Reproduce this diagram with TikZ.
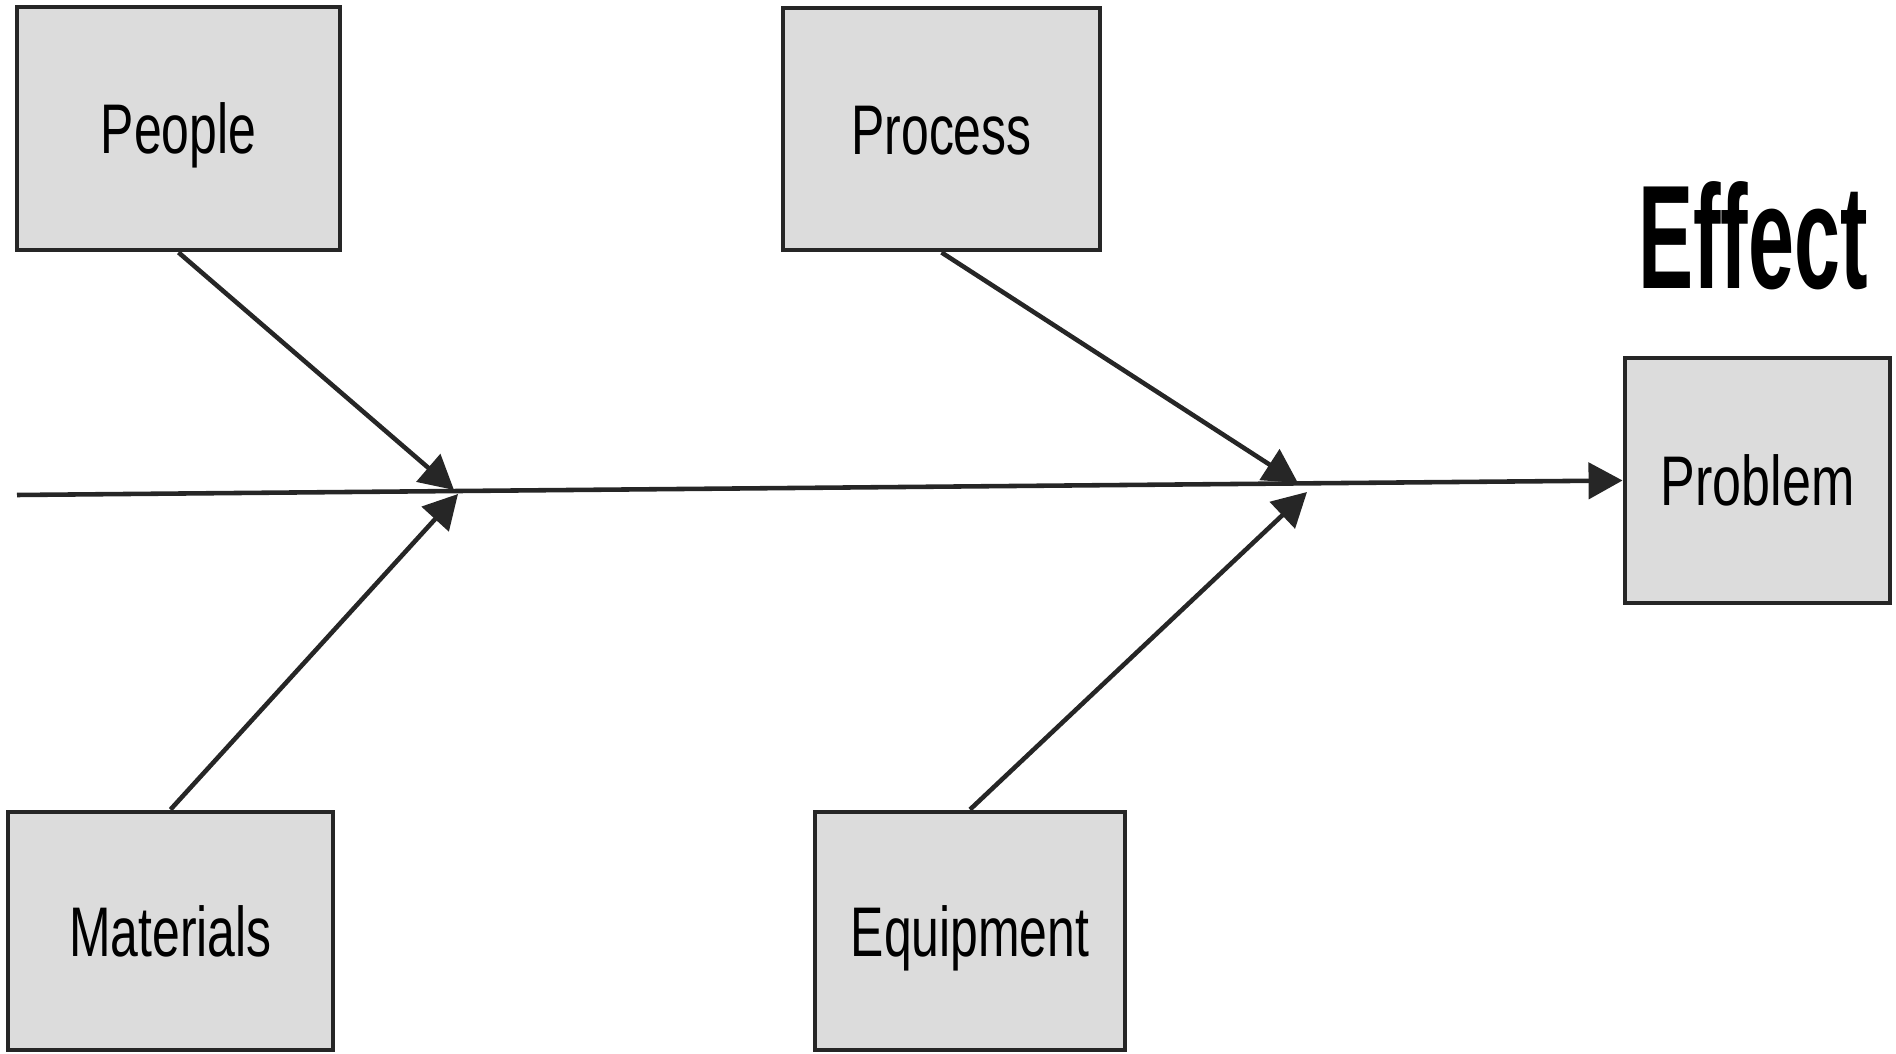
\documentclass[tikz,border=0pt]{standalone}
\usepackage{fontspec}
\setmainfont{Liberation Sans}
\usepackage{graphicx}
\usetikzlibrary{arrows.meta}
\definecolor{boxgray}{HTML}{DCDCDC}
\definecolor{linegray}{HTML}{262626}
\newcommand{\narrow}[2][0.71]{\scalebox{#1}[1]{#2}}

\begin{document}
\begin{tikzpicture}[x=0.1mm, y=-0.1mm,
  cause/.style={draw=linegray, line width=1.4pt, fill=boxgray, inner sep=0pt,
    text height=14.3pt, text depth=0pt, font=\fontsize{20}{24}\selectfont},
  bone/.style={draw=linegray, line width=1.3pt,
    -{Triangle[length=3.4mm, width=3.6mm]}}]
\useasboundingbox (0,0) rectangle (1896,1054);
\node[cause, minimum width=32.3mm, minimum height=24.3mm] at (178.5, 128.5) (people) {\narrow{People}};
\node[cause, minimum width=31.7mm, minimum height=24.2mm] at (941.5, 129)   (process) {\narrow{Process}};
\node[cause, minimum width=32.5mm, minimum height=23.8mm] at (170.5, 931)   (materials) {\narrow{Materials}};
\node[cause, minimum width=31.0mm, minimum height=23.8mm] at (970, 931)     (equipment) {\narrow{Equipment}};
\node[cause, minimum width=26.5mm, minimum height=24.5mm] at (1757.5, 480.5) (problem) {\narrow[0.74]{Problem}};
\node[font=\fontsize{42}{50}\selectfont\bfseries] at (1753, 236) (effect) {\narrow[0.56]{Effect}};
\coordinate (tail) at (17, 495);
\coordinate (pplTip) at (454, 490);
\coordinate (matTip) at (458, 494);
\coordinate (prcTip) at (1298, 483);
\coordinate (eqpTip) at (1307, 492);
\draw[bone] (tail) -- (problem.west);
\draw[bone] (people.south) -- (pplTip);
\draw[bone] (materials.north) -- (matTip);
\draw[bone] (process.south) -- (prcTip);
\draw[bone] (equipment.north) -- (eqpTip);
\end{tikzpicture}
\end{document}
